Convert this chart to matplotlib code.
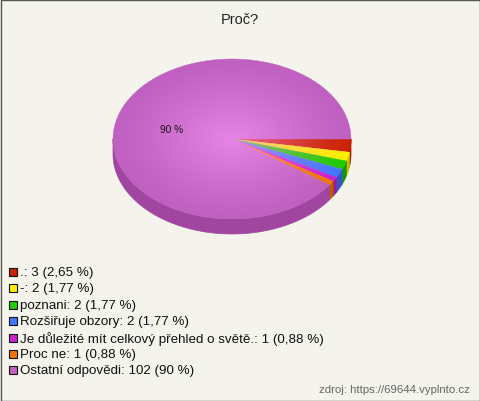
import numpy as np
import matplotlib.pyplot as plt
from matplotlib.patches import Polygon, Rectangle, Ellipse

# data
labels = ['.', '-', 'poznani', 'Rozšiřuje obzory',
          'Je důležité mít celkový přehled o světě.', 'Proc ne', 'Ostatní odpovědi']
values = [3, 2, 2, 2, 1, 1, 102]
pct_text = ['2,65 %', '1,77 %', '1,77 %', '1,77 %', '0,88 %', '0,88 %', '90 %']
colors = ['#cc2200', '#ffee00', '#22cc00', '#4477ff', '#cc22cc', '#ee7700', '#c060c0']
side_colors = ['#a01a00', '#ccbb00', '#189900', '#3355cc', '#991a99', '#bb5c00', '#a045a0']

plt.rcParams['font.family'] = ['Liberation Sans', 'DejaVu Sans']

fig = plt.figure(figsize=(4.8, 4.02), dpi=100)
fig.patch.set_facecolor('#f4f4ec')
ax = fig.add_axes([0, 0, 1, 1])
ax.set_xlim(0, 480)
ax.set_ylim(402, 0)
ax.axis('off')

# frame
ax.add_patch(Rectangle((0.5, 0.5), 479, 401, fill=False, edgecolor='#555555', lw=1))

ax.text(240, 20, 'Proč?', ha='center', va='center', fontsize=10.5, color='#222222')

# pie geometry (pixels)
cx, cy, rx, ry, depth = 232, 140, 119, 80, 15
fracs = np.array(values) / np.sum(values)
cum = np.concatenate([[0], np.cumsum(fracs)]) * 2 * np.pi

def arc(t0, t1, dy=0):
    t = np.linspace(t0, t1, max(int((t1 - t0) * 60), 2))
    return np.column_stack([cx + rx * np.cos(t), cy + dy + ry * np.sin(t)])

# side walls (front half only: angles 0..pi)
for i in range(len(values)):
    a0, a1 = max(cum[i], 0), min(cum[i + 1], np.pi)
    if a1 > a0:
        top = arc(a0, a1)
        bot = arc(a0, a1, depth)[::-1]
        ax.add_patch(Polygon(np.vstack([top, bot]), closed=True,
                             facecolor=side_colors[i], edgecolor=side_colors[i], lw=0.5))

# top face
for i in range(len(values)):
    pts = np.vstack([[cx, cy], arc(cum[i], cum[i + 1])])
    ax.add_patch(Polygon(pts, closed=True, facecolor=colors[i], edgecolor=colors[i], lw=0.3))

# radial highlight (pinkish)
clip = Ellipse((cx, cy), 2 * rx, 2 * ry, transform=ax.transData, facecolor='none', edgecolor='none')
ax.add_patch(clip)
gx, gy = np.meshgrid(np.linspace(-1, 1, 200), np.linspace(-1, 1, 200))
r = np.clip(np.sqrt(gx ** 2 + gy ** 2), 0, 1)
img = np.zeros((200, 200, 4))
img[..., 0] = 1.0
img[..., 1] = 0.62
img[..., 2] = 1.0
img[..., 3] = 0.6 * (1 - r) ** 1.2
im = ax.imshow(img, extent=(cx - rx, cx + rx, cy + ry, cy - ry), interpolation='bilinear', zorder=3)
im.set_clip_path(clip)
ax.set_xlim(0, 480)
ax.set_ylim(402, 0)

ax.text(172, 130, pct_text[-1], ha='center', va='center', fontsize=7.3, color='#111111', zorder=4)

# legend
y0, step = 273, 16.4
for i, lab in enumerate(labels):
    y = y0 + i * step
    ax.add_patch(Rectangle((8.5, y - 4), 8, 8, facecolor=colors[i], edgecolor='#111111', lw=0.8))
    ax.text(20, y, f'{lab}: {values[i]} ({pct_text[i]})', ha='left', va='center',
            fontsize=9.6, color='#111111')

ax.text(470, 390, 'zdroj: https://69644.vyplnto.cz', ha='right', va='center',
        fontsize=8.2, color='#666666')

plt.savefig('out.png', dpi=100, facecolor=fig.get_facecolor())
